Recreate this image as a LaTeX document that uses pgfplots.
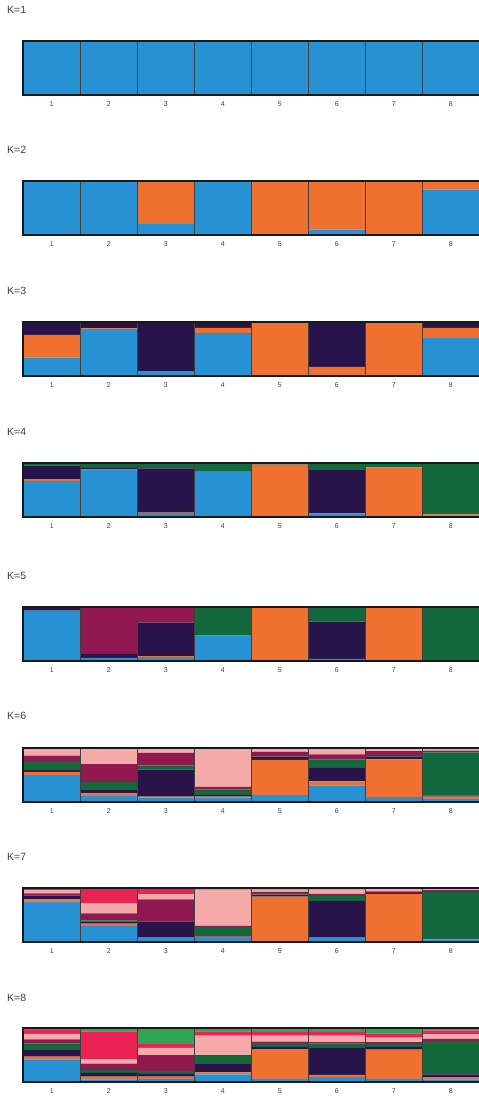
\documentclass[border=0pt]{standalone}
\usepackage{fontspec}
\setmainfont{Liberation Sans}
\usepackage{pgfplots}
\usepackage{pgfplotstable}
\pgfplotsset{compat=1.18}

\definecolor{c1}{HTML}{2692D4}
\definecolor{c2}{HTML}{F07030}
\definecolor{c3}{HTML}{28144B}
\definecolor{c4}{HTML}{14693C}
\definecolor{c5}{HTML}{911950}
\definecolor{c6}{HTML}{F5AAAA}
\definecolor{c7}{HTML}{EB2355}
\definecolor{c8}{HTML}{32A555}

\pgfplotstableread{
b k1
1 1
2 1
3 1
4 1
5 1
6 1
7 1
8 1
}\kone
\pgfplotstableread{
b k1 k2
1 0.98 0.02
2 0.995 0.005
3 0.20 0.80
4 1.00 0.00
5 0.00 1.00
6 0.10 0.90
7 0.00 1.00
8 0.84 0.16
}\ktwo
\pgfplotstableread{
b k1 k2 k3
1 0.34 0.42 0.24
2 0.87 0.01 0.12
3 0.07 0.01 0.92
4 0.80 0.09 0.11
5 0.00 0.99 0.01
6 0.01 0.16 0.83
7 0.00 0.99 0.01
8 0.70 0.19 0.11
}\kthree
\pgfplotstableread{
b k1 k2 k3 k4
1 0.67 0.03 0.25 0.05
2 0.88 0.00 0.03 0.09
3 0.07 0.01 0.82 0.10
4 0.83 0.01 0.01 0.15
5 0.00 0.97 0.00 0.03
6 0.06 0.01 0.80 0.13
7 0.00 0.92 0.00 0.08
8 0.01 0.04 0.00 0.95
}\kfour
\pgfplotstableread{
b k1 k2 k3 k4 k5
1 0.935 0.00 0.05 0.00 0.015
2 0.06 0.00 0.07 0.00 0.87
3 0.07 0.02 0.62 0.00 0.29
4 0.47 0.00 0.00 0.52 0.01
5 0.00 1.00 0.00 0.00 0.00
6 0.04 0.00 0.69 0.26 0.01
7 0.00 1.00 0.00 0.00 0.00
8 0.00 0.00 0.00 1.00 0.00
}\kfive
\pgfplotstableread{
b k1 k2 k3 k4 k5 k6
1 0.50 0.06 0.03 0.15 0.12 0.14
2 0.11 0.05 0.06 0.15 0.33 0.30
3 0.08 0.02 0.50 0.08 0.23 0.09
4 0.08 0.02 0.03 0.10 0.05 0.72
5 0.13 0.65 0.05 0.01 0.09 0.07
6 0.31 0.07 0.25 0.16 0.09 0.12
7 0.09 0.70 0.05 0.01 0.09 0.06
8 0.06 0.04 0.02 0.80 0.03 0.05
}\ksix
\pgfplotstableread{
b k1 k2 k3 k4 k5 k6 k7
1 0.75 0.04 0.07 0.00 0.04 0.06 0.04
2 0.30 0.04 0.04 0.02 0.13 0.19 0.28
3 0.07 0.01 0.30 0.01 0.40 0.09 0.12
4 0.09 0.01 0.01 0.17 0.02 0.67 0.03
5 0.01 0.83 0.03 0.01 0.05 0.04 0.03
6 0.07 0.01 0.68 0.09 0.04 0.08 0.03
7 0.00 0.89 0.02 0.00 0.03 0.04 0.02
8 0.04 0.01 0.01 0.87 0.03 0.02 0.02
}\kseven
\pgfplotstableread{
b k1 k2 k3 k4 k5 k6 k7 k8
1 0.42 0.05 0.12 0.12 0.08 0.10 0.07 0.04
2 0.05 0.05 0.07 0.05 0.12 0.08 0.52 0.06
3 0.06 0.04 0.05 0.05 0.30 0.13 0.07 0.30
4 0.14 0.04 0.15 0.15 0.02 0.36 0.08 0.06
5 0.06 0.55 0.04 0.07 0.03 0.11 0.07 0.07
6 0.09 0.04 0.50 0.08 0.03 0.12 0.07 0.07
7 0.06 0.54 0.05 0.05 0.04 0.08 0.08 0.10
8 0.05 0.04 0.05 0.62 0.04 0.08 0.07 0.05
}\keight

\pgfplotsset{
  struct/.style={
    width=458pt, height=54pt, scale only axis,
    xmin=0.5, xmax=8.535, ymin=0, ymax=1,
    ybar stacked, bar width=1,
    xtick={1,...,8}, xticklabels={1,2,3,4,5,6,7,8},
    minor xtick={1.5,2.5,...,7.5},
    xminorgrids, minor grid style={black!75, line width=0.5pt},
    major tick length=0pt, minor tick length=0pt,
    ytick=\empty,
    xticklabel style={font=\fontsize{7}{8}\selectfont, text=black!75, yshift=-3.5pt},
    axis line style={black!90, line width=1.6pt},
    axis on top,
    anchor=north west,
  },
}
\tikzset{klabel/.style={anchor=west, inner sep=0pt, font=\fontsize{10.5}{12}\selectfont, text=black!75}}

\newcommand{\kplot}[3]{%
  \begin{axis}[struct, at={(23.3pt,-#3)}]
  \pgfplotsinvokeforeach{1,...,#2}{\addplot[fill=c##1, draw=none] table[x=b,y=k##1]{#1};}
  \end{axis}}

\begin{document}
\begin{tikzpicture}
\path[use as bounding box] (0,0) rectangle (479pt,-1098pt);
\kplot{\kone}{1}{41pt}
\kplot{\ktwo}{2}{181pt}
\kplot{\kthree}{3}{322pt}
\kplot{\kfour}{4}{463pt}
\kplot{\kfive}{5}{607pt}
\kplot{\ksix}{6}{748pt}
\kplot{\kseven}{7}{888pt}
\kplot{\keight}{8}{1028pt}
\node[klabel] at (7pt,-10pt) {K=1};
\node[klabel] at (7pt,-150pt) {K=2};
\node[klabel] at (7pt,-291pt) {K=3};
\node[klabel] at (7pt,-432pt) {K=4};
\node[klabel] at (7pt,-576pt) {K=5};
\node[klabel] at (7pt,-716pt) {K=6};
\node[klabel] at (7pt,-857pt) {K=7};
\node[klabel] at (7pt,-998pt) {K=8};
\end{tikzpicture}
\end{document}
